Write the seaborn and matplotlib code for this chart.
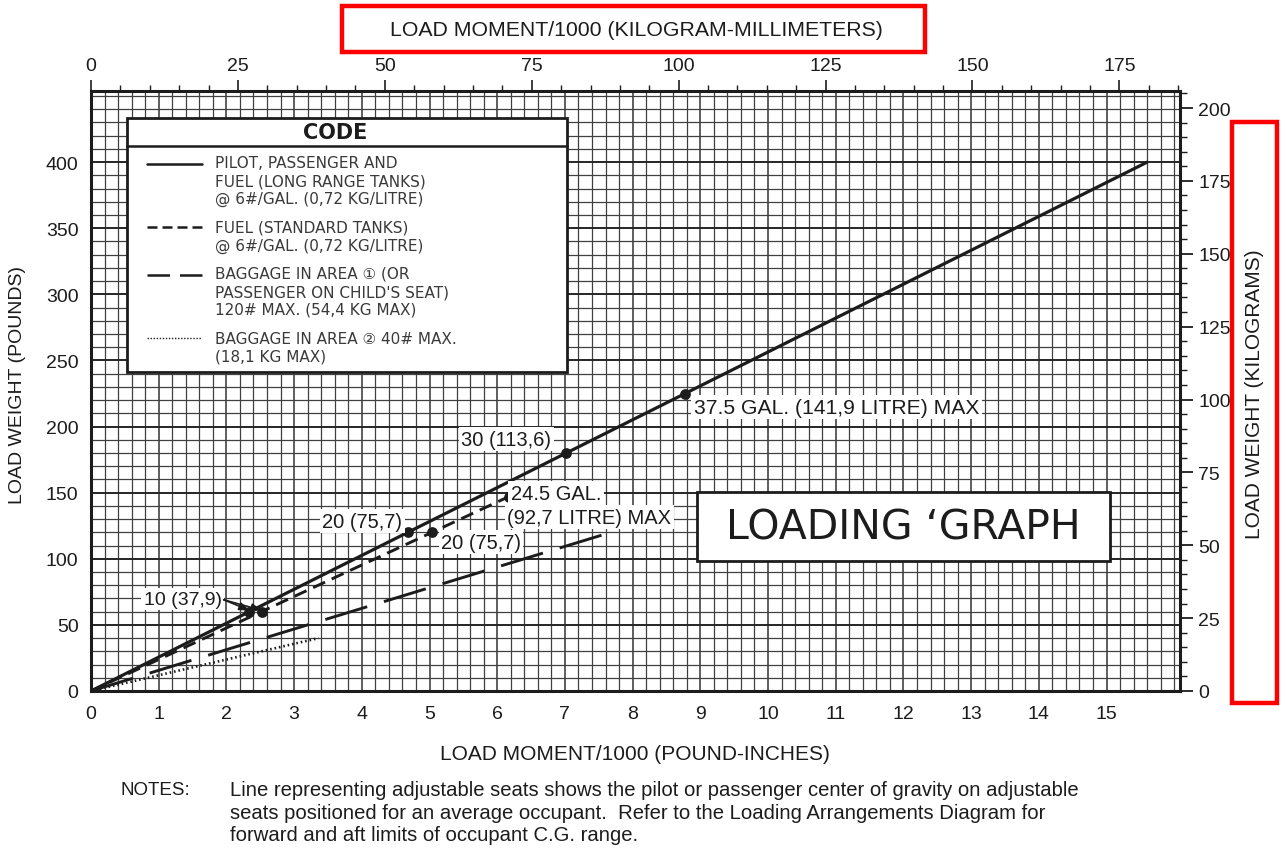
import matplotlib
matplotlib.use("Agg")
import matplotlib.pyplot as plt
from matplotlib.patches import Rectangle
from matplotlib.lines import Line2D
from matplotlib.ticker import MultipleLocator, FixedLocator
import pandas as pd
import seaborn as sns

# ---------------------------------------------------------------
# Loading graph data: load moment (lb-in / 1000) vs load weight (lb)
# ---------------------------------------------------------------
pilot_moment = [0.0, 15.6]          # pilot, passenger and long range fuel
pilot_weight = [0, 400]
std_fuel_moment = [0.0, 6.17]       # fuel, standard tanks
std_fuel_weight = [0, 147]
bag1_moment = [0.0, 7.68]           # baggage area 1 / child's seat
bag1_weight = [0, 120]
bag2_moment = [0.0, 3.36]           # baggage area 2
bag2_weight = [0, 40]

# marked fuel quantities (gallons, litres) on the two fuel lines
long_gal = ["10", "20", "30", "37.5"]
long_litre = ["37,9", "75,7", "113,6", "141,9"]
long_mark_weight = [60, 120, 180, 225]
long_mark_moment = [2.34, 4.68, 7.02, 8.78]

std_gal = ["10", "20", "24.5"]
std_litre = ["37,9", "75,7", "92,7"]
std_mark_weight = [60, 120, 147]
std_mark_moment = [2.52, 5.04, 6.17]

# axis ticks
x_ticks = list(range(0, 16))
y_ticks = list(range(0, 401, 50))
kgmm_ticks = list(range(0, 176, 25))
kg_ticks = list(range(0, 201, 25))

LBIN_TO_KGMM = 11.521   # 1 lb-in = 11.521 kg-mm
LB_TO_KG = 0.45359

legend_rows = [
    ("solid", ["PILOT, PASSENGER AND", "FUEL (LONG RANGE TANKS)", "@ 6#/GAL. (0,72 KG/LITRE)"]),
    ("dash", ["FUEL (STANDARD TANKS)", "@ 6#/GAL. (0,72 KG/LITRE)"]),
    ("longdash", ["BAGGAGE IN AREA \u2460 (OR", "PASSENGER ON CHILD'S SEAT)", "120# MAX. (54,4 KG MAX)"]),
    ("dot", ["BAGGAGE IN AREA \u2461 40# MAX.", "(18,1 KG MAX)"]),
]

notes_lines = [
    "Line representing adjustable seats shows the pilot or passenger center of gravity on adjustable",
    "seats positioned for an average occupant.  Refer to the Loading Arrangements Diagram for",
    "forward and aft limits of occupant C.G. range.",
]

# ---------------------------------------------------------------
sns.set_theme(style="white")
plt.rcParams["font.family"] = ["Liberation Sans", "DejaVu Sans"]
INK = "#1c1c1c"
GRID = "#404040"

fig = plt.figure(figsize=(12.87, 8.54), dpi=100)
ax = fig.add_axes([91 / 1287, 1 - 692 / 854, 1089 / 1287, 600 / 854])
ax.set_xlim(0, 16.085)
ax.set_ylim(0, 453.8)

# graph-paper grid
ax.xaxis.set_major_locator(FixedLocator(x_ticks))
ax.xaxis.set_minor_locator(MultipleLocator(0.2))
ax.yaxis.set_major_locator(FixedLocator(y_ticks))
ax.yaxis.set_minor_locator(MultipleLocator(10))
ax.grid(which="minor", color=GRID, lw=0.9, zorder=0)
ax.grid(which="major", axis="y", color="#252525", lw=1.4, zorder=0)
ax.grid(which="major", axis="x", color="#333333", lw=1.1, zorder=0)
ax.set_axisbelow(True)
ax.tick_params(which="both", length=0, labelsize=14, labelcolor=INK)
ax.tick_params(axis="x", pad=10)
ax.tick_params(axis="y", pad=9)
for s in ax.spines.values():
    s.set_color(INK)
    s.set_linewidth(2.2)

# load lines
lines_df = {
    "solid": (pilot_moment, pilot_weight, dict(lw=2.3)),
    "dash": (std_fuel_moment, std_fuel_weight, dict(lw=2.1, dashes=(4.5, 2.5))),
    "longdash": (bag1_moment, bag1_weight, dict(lw=2.1, dashes=(15, 6))),
    "dot": (bag2_moment, bag2_weight, dict(lw=1.9, dashes=(0.6, 1.1))),
}
for key, (mx, wy, kw) in lines_df.items():
    df = pd.DataFrame({"moment": mx, "weight": wy})
    sns.lineplot(data=df, x="moment", y="weight", ax=ax, color=INK,
                 sort=False, estimator=None, zorder=4, **kw)

marks = pd.DataFrame({
    "moment": long_mark_moment + std_mark_moment,
    "weight": long_mark_weight + std_mark_weight,
})
sns.scatterplot(data=marks, x="moment", y="weight", ax=ax, color=INK,
                s=60, edgecolor=INK, linewidth=0, zorder=5, legend=False)
ax.set_xlabel("")
ax.set_ylabel("")

# fuel quantity labels
lab = dict(color=INK, zorder=6,
           bbox=dict(boxstyle="square,pad=0.12", fc="white", ec="none"))
ax.text(8.90, 214.5, f"{long_gal[3]} GAL. ({long_litre[3]} LITRE) MAX", ha="left", va="center",
        fontsize=15.2, **lab)
ax.text(6.80, 190.5, f"{long_gal[2]} ({long_litre[2]})", ha="right", va="center", fontsize=14.5, **lab)
ax.text(4.60, 128.5, f"{long_gal[1]} ({long_litre[1]})", ha="right", va="center", fontsize=14.5, **lab)
ax.text(5.17, 112.5, f"{std_gal[1]} ({std_litre[1]})", ha="left", va="center", fontsize=14.5, **lab)
ax.text(6.20, 149.7, f"{std_gal[2]} GAL.", ha="left", va="center", fontsize=14.5, **lab)
ax.text(6.15, 131.6, f"({std_litre[2]} LITRE) MAX", ha="left", va="center", fontsize=14.5, **lab)
ax.text(1.93, 69.5, f"{long_gal[0]} ({long_litre[0]})", ha="right", va="center", fontsize=14, **lab)
for mx, wy in [(long_mark_moment[0], long_mark_weight[0]), (std_mark_moment[0], std_mark_weight[0])]:
    ax.annotate("", xy=(mx, wy + 1), xytext=(1.96, 69.0),
                arrowprops=dict(arrowstyle="-|>,head_length=0.5,head_width=0.2",
                                color=INK, lw=1.2, shrinkA=0, shrinkB=0), zorder=6)

# CODE box
tr = ax.transAxes
ax.add_patch(Rectangle((0.0331, 0.532), 0.4040, 0.423, transform=tr, fc="white",
                       ec=INK, lw=2.0, zorder=7))
ax.add_line(Line2D([0.0331, 0.4371], [0.908, 0.908], transform=tr, color=INK, lw=1.8, zorder=8))
ax.text(0.224, 0.932, "CODE", transform=tr, ha="center", va="center", fontsize=15,
        fontweight="bold", family=["DejaVu Sans"], color=INK, zorder=8)

sample_y = [0.878, 0.773, 0.693, 0.588]
text_y = [[0.880, 0.850, 0.8217], [0.7733, 0.7433], [0.6967, 0.665, 0.6367], [0.5883, 0.5583]]
styles = {"solid": dict(lw=1.8), "dash": dict(lw=1.8, dashes=(4, 2)),
          "longdash": dict(lw=1.8, dashes=(9, 4)), "dot": dict(lw=1.0, dashes=(1, 1.2))}
for (key, rows), sy, tys in zip(legend_rows, sample_y, text_y):
    ax.add_line(Line2D([0.0514, 0.102], [sy, sy], transform=tr, color=INK, zorder=8, **styles[key]))
    for txt, ty in zip(rows, tys):
        ax.text(0.1139, ty, txt, transform=tr, ha="left", va="center", fontsize=11,
                family=["DejaVu Sans", "Noto Sans CJK JP"], color="#3a3a3a", zorder=8)

# title box
ax.add_patch(Rectangle((0.5565, 0.2167), 0.3792, 0.115, transform=tr, fc="white",
                       ec=INK, lw=2.0, zorder=7))
ax.text(0.7456, 0.272, "LOADING \u2018GRAPH", transform=tr, ha="center", va="center",
        fontsize=29.5, family=["DejaVu Sans"], color=INK, zorder=8)

# secondary scales: kg-mm on top, kg on the right
top = ax.secondary_xaxis("top", functions=(lambda x: x * LBIN_TO_KGMM, lambda x: x / LBIN_TO_KGMM))
top.xaxis.set_major_locator(FixedLocator(kgmm_ticks))
top.xaxis.set_minor_locator(MultipleLocator(5))
top.tick_params(which="major", direction="out", length=8, width=1.2, color=INK,
                labelsize=14, labelcolor=INK, pad=4)
top.tick_params(which="minor", direction="out", length=4, width=1.0, color=INK)
top.spines["top"].set_visible(False)

right = ax.secondary_yaxis("right", functions=(lambda y: y * LB_TO_KG, lambda y: y / LB_TO_KG))
right.yaxis.set_major_locator(FixedLocator(kg_ticks))
right.yaxis.set_minor_locator(MultipleLocator(5))
right.tick_params(which="major", direction="out", length=9, width=1.3, color=INK,
                  labelsize=14, labelcolor=INK, pad=4)
right.tick_params(which="minor", direction="out", length=5, width=1.0, color=INK)
right.spines["right"].set_visible(False)

# axis titles
fig.text(636 / 1287, 1 - 31 / 854, "LOAD MOMENT/1000 (KILOGRAM-MILLIMETERS)", ha="center", va="center",
         fontsize=15.3, color=INK)
fig.text(635 / 1287, 1 - 755 / 854, "LOAD MOMENT/1000 (POUND-INCHES)", ha="center", va="center",
         fontsize=15, color=INK)
fig.text(18 / 1287, 1 - 385 / 854, "LOAD WEIGHT (POUNDS)", ha="center", va="center",
         rotation=90, fontsize=14, color=INK)
fig.text(1254 / 1287, 1 - 394 / 854, "LOAD WEIGHT (KILOGRAMS)", ha="center", va="center",
         rotation=90, fontsize=15, color=INK)

# notes
fig.text(120 / 1287, 1 - 791 / 854, "NOTES:", ha="left", va="center", fontsize=13.5, color=INK)
for i, line in enumerate(notes_lines):
    fig.text(230 / 1287, 1 - (791 + 22.5 * i) / 854, line, ha="left", va="center",
             fontsize=14.6, color=INK)

# highlight frames around the metric axis titles
fig.patches.append(Rectangle((342 / 1287, 1 - 53 / 854), 583 / 1287, 46 / 854,
                             transform=fig.transFigure, fill=False, ec="#ff0000", lw=3.2))
fig.patches.append(Rectangle((1232 / 1287, 1 - 704 / 854), 45 / 1287, 581 / 854,
                             transform=fig.transFigure, fill=False, ec="#ff0000", lw=3.2))

fig.savefig("out.png", dpi=100, facecolor="white")
